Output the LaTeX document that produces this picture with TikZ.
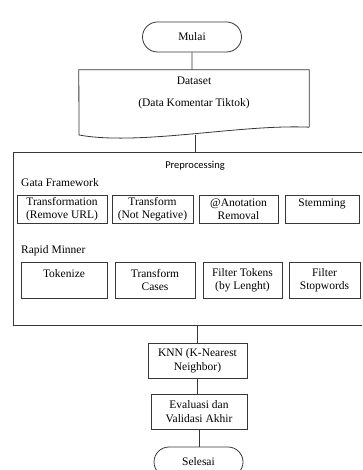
\documentclass[tikz,border=0pt]{standalone}
\usepackage{fontspec}
\setmainfont{Liberation Serif}
\newfontfamily\calibrifont{Carlito}
\usepackage{tikz}
\usetikzlibrary{positioning,shapes.misc}
\definecolor{lineclr}{RGB}{55,55,55}
\tikzset{
  termnode/.style  = {rounded rectangle, draw=lineclr, thick, minimum height=30pt,
                      inner sep=2pt, font=\fontsize{11.5}{13}\selectfont},
  procnode/.style  = {rectangle, draw=lineclr, thick, align=center, inner sep=2pt,
                      font=\fontsize{11.5}{13.5}\selectfont},
  stepnode/.style  = {rectangle, draw=lineclr, thick, align=center, inner sep=2pt,
                      font=\fontsize{11.5}{13.5}\selectfont},
  grouplbl/.style  = {anchor=west, inner sep=0pt, font=\fontsize{11.5}{13}\selectfont},
  flowline/.style  = {draw=lineclr, thick}
}

\begin{document}
\begin{tikzpicture}[x=1pt, y=-1pt]
  \clip (0,0) rectangle (362,470);
  \fill[white] (0,0) rectangle (362,470);
  % Start
  \node[termnode, minimum width=103pt] (mulai) at (192,37) {Mulai};
  % Dataset (document shape)
  \node[minimum width=230pt, minimum height=57pt, inner sep=0pt] (dataset) at (194,98.5) {};
  \draw[flowline] (dataset.south east) -- (dataset.north east) -- (dataset.north west)
    -- (79,135) .. controls (140,146) and (240,124) .. (dataset.south east);
  \node[align=center, font=\fontsize{11.5}{13}\selectfont] (datatxt) at (194,93)
    {Dataset\\[9pt](Data Komentar Tiktok)};
  \coordinate (databot) at (195,135.5);
  % Preprocessing group
  \node[draw=lineclr, thick, minimum width=367pt, minimum height=173pt, inner sep=0pt]
    (prep) at (196.5,238.5) {};
  \node[font=\calibrifont\fontsize{10.5}{12}\selectfont] (preptitle) at (195,166) {Preprocessing};
  \node[grouplbl] (gata) at (21,183) {Gata Framework};
  \node[grouplbl] (rapid) at (21,251) {Rapid Minner};
  % Gata Framework steps
  \node[stepnode, minimum width=90pt, minimum height=28pt] (g1) at (62,209)
    {Transformation\\(Remove URL)};
  \node[stepnode, minimum width=81pt, minimum height=28pt] (g2) at (152.5,209)
    {Transform\\(Not Negative)};
  \node[stepnode, minimum width=79pt, minimum height=28pt] (g3) at (238.5,209)
    {@Anotation\\Removal};
  \node[stepnode, minimum width=74pt, minimum height=28pt] (g4) at (322,209)
    {Stemming\\\mbox{}};
  % Rapid Minner steps
  \node[stepnode, minimum width=86pt, minimum height=36pt] (r1) at (64,280)
    {Tokenize\\\mbox{}};
  \node[stepnode, minimum width=80pt, minimum height=36pt] (r2) at (155,280)
    {Transform\\Cases};
  \node[stepnode, minimum width=79pt, minimum height=36pt] (r3) at (242.5,280)
    {Filter Tokens\\(by Lenght)};
  \node[stepnode, minimum width=71pt, minimum height=36pt] (r4) at (324.5,280)
    {Filter\\Stopwords};
  % Classification and end
  \node[procnode, minimum width=99pt, minimum height=35pt] (knn) at (197.5,360.5)
    {KNN (K-Nearest\\Neighbor)};
  \node[procnode, minimum width=96pt, minimum height=35pt] (eval) at (199,411.5)
    {Evaluasi dan\\Validasi Akhir};
  \node[termnode, minimum width=93pt] (selesai) at (198.5,462) {Selesai};
  % Connectors
  \draw[flowline] (mulai) -- (mulai |- dataset.north);
  \draw[flowline] (databot) -- (databot |- prep.north);
  \draw[flowline] (prep.south -| knn) -- (knn);
  \draw[flowline] (knn) -- (knn |- eval.north);
  \draw[flowline] (eval) -- (eval |- selesai.north);
\end{tikzpicture}
\end{document}
